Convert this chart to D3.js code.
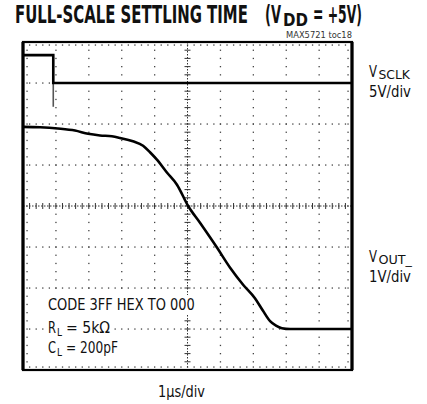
<!DOCTYPE html>
<html>
<head>
<meta charset="utf-8">
<script src="https://cdn.jsdelivr.net/npm/d3@7"></script>
<style>
  body { margin: 0; background: #fff; }
  svg { display: block; }
  text { font-family: "Liberation Sans Narrow", "DejaVu Sans Condensed", "Roboto", sans-serif; fill: #111; }
</style>
</head>
<body>
<div id="chart"></div>
<script>
// time in microseconds, 1us/div, 10 divisions
let timeUs = [0, 0.52, 1.06, 1.58, 1.98, 2.34, 2.70, 2.95, 3.34, 3.65, 3.86, 4.07, 4.38, 4.68, 5.02, 5.38, 5.90, 6.29, 6.69, 7.05, 7.29, 7.51, 7.69, 7.87, 8.12, 10];
// VOUT in volts, 1V/div
let voutV = [4.93, 4.92, 4.89, 4.84, 4.76, 4.72, 4.70, 4.66, 4.58, 4.47, 4.31, 4.13, 3.81, 3.52, 3.00, 2.59, 1.98, 1.50, 1.08, 0.75, 0.45, 0.19, 0.08, 0.02, 0, 0];
// VSCLK in volts, 5V/div
let sclkTime = [0, 0.92, 0.92, 10];
let sclkV = [3.4, 3.4, 0, 0];
let edgeTime = [0.92, 0.92];
let edgeV = [3.4, -2.9];

// [text, x, y, width, size, weight]
let labelParts = [
    ["FULL-SCALE SETTLING TIME", 15, 23, 233, 24, "bold"],
    ["(V", 265, 23, 16, 24, "bold"],
    ["DD", 283, 26, 25, 17, "bold"],
    ["= +5V)", 313, 23, 49, 24, "bold"],
    ["MAX5721 toc18", 286, 38, 66, 9.5, "normal"],
    ["V", 369, 77, 8, 16, "normal"],
    ["SCLK", 378.5, 79, 31.5, 12, "normal"],
    ["5V/div", 369, 97, 42, 16, "normal"],
    ["V", 369, 262, 8, 16, "normal"],
    ["OUT_", 378.5, 264, 33.5, 12, "normal"],
    ["1V/div", 369, 282, 42, 16, "normal"],
    ["1µs/div", 158, 397, 47, 16, "normal"]
];
let legendParts = [
    ["CODE 3FF HEX TO 000", 48, 310, 147, 16],
    ["R", 48, 333, 8, 16],
    ["L", 57, 336, 5, 11],
    ["= 5kΩ", 66, 333, 44, 16],
    ["C", 48, 353, 8, 16],
    ["L", 57, 356, 5, 11],
    ["= 200pF", 66, 353, 52, 16]
];

function config(){
    let width = 427, height = 404;
    let plot = { left: 23, right: 352, top: 42, bottom: 370 };
    let svg = d3.select("#chart").append("svg")
        .attr("width", width).attr("height", height);
    return { width, height, plot, svg };
}

function scales(cfg){
    let { plot } = cfg;
    let x = d3.scaleLinear().domain([0, 10]).range([plot.left, plot.right]);
    let yDiv = d3.scaleLinear().domain([-4, 4]).range([plot.bottom, plot.top]);
    let yOut = d3.scaleLinear().domain([-1, 7]).range([plot.bottom, plot.top]);
    let yClk = d3.scaleLinear().domain([-35, 5]).range([plot.bottom, plot.top]);
    return { x, yDiv, yOut, yClk };
}

function drawGrid(cfg, sc){
    let { svg, plot } = cfg;
    let { x, yDiv } = sc;
    let g = svg.append("g");
    let minorX = d3.range(0, 10.001, 0.2);
    let minorY = d3.range(-4, 4.001, 0.2);
    let dot = (px, py) => g.append("rect").attr("x", px - 0.6).attr("y", py - 0.6)
        .attr("width", 1.3).attr("height", 1.3).attr("fill", "#444");
    let inLegend = (px, py) => px > 40 && px < 197 && py > 292;

    // major verticals
    d3.range(1, 10).filter(d => d !== 5).forEach(t => {
        minorY.slice(1, -1).forEach(v => {
            let px = x(t), py = yDiv(v);
            if (!inLegend(px, py)) dot(px, py);
        });
    });
    // major horizontals
    d3.range(-3, 4).filter(d => d !== 0).forEach(v => {
        minorX.slice(1, -1).forEach(t => dot(x(t), yDiv(v)));
    });
    // centre axes with ticks
    g.append("line").attr("x1", x(5)).attr("x2", x(5)).attr("y1", plot.top).attr("y2", plot.bottom)
        .attr("stroke", "#333").attr("stroke-width", 1).attr("stroke-dasharray", "1.5,1.5");
    g.append("line").attr("y1", yDiv(0)).attr("y2", yDiv(0)).attr("x1", plot.left).attr("x2", plot.right)
        .attr("stroke", "#333").attr("stroke-width", 1).attr("stroke-dasharray", "1.5,1.5");
    minorY.forEach(v => g.append("line").attr("x1", x(5) - 3).attr("x2", x(5) + 3)
        .attr("y1", yDiv(v)).attr("y2", yDiv(v)).attr("stroke", "#333").attr("stroke-width", 1));
    minorX.forEach(t => g.append("line").attr("y1", yDiv(0) - 3).attr("y2", yDiv(0) + 3)
        .attr("x1", x(t)).attr("x2", x(t)).attr("stroke", "#333").attr("stroke-width", 1));
    // border minor ticks
    minorX.slice(1, -1).forEach(t => { dot(x(t), plot.top + 3); dot(x(t), plot.bottom - 3); });
    minorY.slice(1, -1).forEach(v => { dot(plot.left + 4, yDiv(v)); dot(plot.right - 4, yDiv(v)); });
}

// text squeezed horizontally to a given width (narrow font look)
function putText(svg, d, weight){
    let g = svg.append("g");
    let t = g.append("text").attr("x", 0).attr("y", 0)
        .style("font-size", d[4] + "px").style("font-weight", weight)
        .text(d[0]);
    let w = t.node().getComputedTextLength();
    g.attr("transform", "translate(" + [d[1], d[2]] + ") scale(" + (d[3] / w) + ",1)");
    return t;
}

function drawLegend(cfg){
    let { svg } = cfg;
    // white backing behind each legend row
    [[295, 315, 197], [318, 338, 112], [338, 358, 120]].forEach(r => {
        svg.append("rect").attr("x", 44).attr("y", r[0]).attr("width", r[2] - 44)
            .attr("height", r[1] - r[0]).attr("fill", "#fff");
    });
    legendParts.forEach(d => putText(svg, d, "normal"));
}

function drawTraces(cfg, sc){
    let { svg } = cfg;
    let { x, yOut, yClk } = sc;
    let out = d3.zip(timeUs, voutV);
    svg.append("path").datum(out)
        .attr("d", d3.line().x(d => x(d[0])).y(d => yOut(d[1])).curve(d3.curveMonotoneX))
        .attr("fill", "none").attr("stroke", "#000").attr("stroke-width", 2.6);
    svg.append("path").datum(d3.zip(edgeTime, edgeV))
        .attr("d", d3.line().x(d => x(d[0])).y(d => yClk(d[1])))
        .attr("fill", "none").attr("stroke", "#555").attr("stroke-width", 1.6);
    svg.append("path").datum(d3.zip(sclkTime, sclkV))
        .attr("d", d3.line().x(d => x(d[0])).y(d => yClk(d[1])))
        .attr("fill", "none").attr("stroke", "#000").attr("stroke-width", 2.6);
}

function drawFrame(cfg){
    let { svg, plot } = cfg;
    svg.append("rect").attr("x", plot.left).attr("y", plot.top)
        .attr("width", plot.right - plot.left).attr("height", plot.bottom - plot.top)
        .attr("fill", "none").attr("stroke", "#000").attr("stroke-width", 2.2);
    svg.append("line").attr("x1", plot.left).attr("x2", plot.left).attr("y1", plot.top).attr("y2", plot.bottom)
        .attr("stroke", "#000").attr("stroke-width", 3.2);
    svg.append("line").attr("x1", plot.right).attr("x2", plot.right).attr("y1", plot.top).attr("y2", plot.bottom)
        .attr("stroke", "#000").attr("stroke-width", 3.2);
}

function drawLabels(cfg){
    let { svg } = cfg;
    labelParts.forEach(d => {
        let t = putText(svg, d, d[5]);
        if (d[0] === "MAX5721 toc18") t.style("fill", "#333");
    });
}

let cfg = config();
let sc = scales(cfg);
drawGrid(cfg, sc);
drawLegend(cfg);
drawTraces(cfg, sc);
drawFrame(cfg);
drawLabels(cfg);
</script>
</body>
</html>
